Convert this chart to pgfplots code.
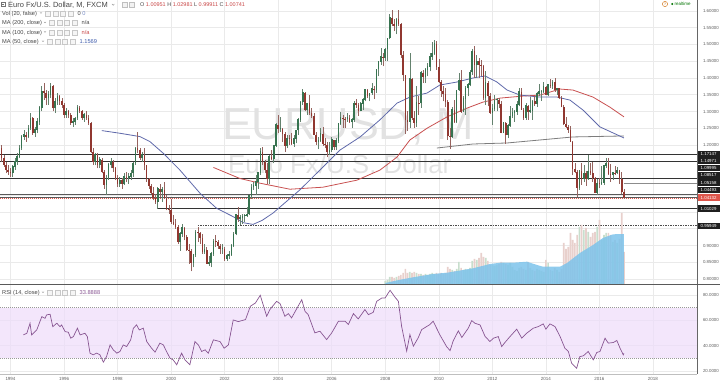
\documentclass[border=0pt]{standalone}
\usepackage{pgfplots}
\pgfplotsset{compat=1.18}
\usepackage{pgfplotstable}
\usepackage{fontspec}
\setmainfont{Liberation Sans}
\newcommand{\fs}[1]{\fontsize{#1}{#1}\selectfont}
\definecolor{upc}{RGB}{55,115,80}
\definecolor{dnc}{RGB}{145,55,48}
\definecolor{upw}{RGB}{100,130,110}
\definecolor{dnw}{RGB}{150,100,95}
\definecolor{gridc}{RGB}{234,234,234}
\definecolor{maA}{RGB}{95,105,170}
\definecolor{maB}{RGB}{200,80,80}
\definecolor{maC}{RGB}{125,125,125}
\definecolor{rsic}{RGB}{135,85,145}
\definecolor{band}{RGB}{238,220,250}
\definecolor{volblue}{RGB}{125,195,235}
\definecolor{volup}{RGB}{200,222,205}
\definecolor{voldn}{RGB}{232,208,204}
\definecolor{axc}{RGB}{95,95,95}
\definecolor{wm}{RGB}{226,226,226}
\definecolor{txt}{RGB}{70,70,70}
\definecolor{redv}{RGB}{200,70,70}
\definecolor{bluev}{RGB}{60,90,170}
\definecolor{curr}{RGB}{222,85,75}

\pgfplotstableread{
t o h l c
1993.667 1.190 1.200 1.150 1.160
1993.750 1.160 1.170 1.135 1.140
1993.833 1.140 1.150 1.115 1.125
1993.917 1.125 1.140 1.110 1.120
1994.000 1.120 1.130 1.105 1.115
1994.083 1.115 1.140 1.105 1.135
1994.167 1.135 1.160 1.125 1.150
1994.250 1.150 1.175 1.140 1.165
1994.333 1.165 1.200 1.160 1.190
1994.417 1.190 1.230 1.185 1.225
1994.500 1.225 1.245 1.215 1.230
1994.583 1.230 1.240 1.210 1.225
1994.667 1.225 1.260 1.220 1.250
1994.750 1.250 1.295 1.245 1.280
1994.833 1.280 1.285 1.230 1.235
1994.917 1.235 1.255 1.225 1.245
1995.000 1.245 1.280 1.235 1.270
1995.083 1.270 1.315 1.260 1.310
1995.167 1.310 1.375 1.300 1.360
1995.250 1.360 1.385 1.335 1.355
1995.333 1.355 1.365 1.320 1.340
1995.417 1.340 1.360 1.320 1.350
1995.500 1.350 1.385 1.340 1.375
1995.583 1.375 1.380 1.300 1.310
1995.667 1.310 1.340 1.295 1.330
1995.750 1.330 1.355 1.320 1.345
1995.833 1.345 1.350 1.320 1.330
1995.917 1.330 1.340 1.310 1.320
1996.000 1.320 1.325 1.280 1.290
1996.083 1.290 1.310 1.280 1.300
1996.167 1.300 1.305 1.280 1.290
1996.250 1.290 1.295 1.260 1.265
1996.333 1.265 1.280 1.255 1.270
1996.417 1.270 1.285 1.260 1.280
1996.500 1.280 1.318 1.275 1.310
1996.583 1.310 1.315 1.295 1.300
1996.667 1.300 1.305 1.275 1.280
1996.750 1.280 1.295 1.270 1.290
1996.833 1.290 1.300 1.275 1.280
1996.917 1.280 1.290 1.260 1.265
1997.000 1.265 1.270 1.175 1.180
1997.083 1.180 1.190 1.140 1.150
1997.167 1.150 1.175 1.140 1.170
1997.250 1.170 1.175 1.130 1.140
1997.333 1.140 1.165 1.130 1.155
1997.417 1.155 1.160 1.115 1.120
1997.500 1.120 1.125 1.070 1.080
1997.583 1.080 1.110 1.050 1.100
1997.667 1.100 1.145 1.095 1.140
1997.750 1.140 1.160 1.130 1.150
1997.833 1.150 1.155 1.120 1.130
1997.917 1.130 1.135 1.095 1.100
1998.000 1.100 1.110 1.075 1.085
1998.083 1.085 1.105 1.075 1.095
1998.167 1.095 1.100 1.070 1.085
1998.250 1.085 1.115 1.080 1.105
1998.333 1.105 1.120 1.090 1.100
1998.417 1.100 1.115 1.085 1.105
1998.500 1.105 1.125 1.095 1.115
1998.583 1.115 1.150 1.105 1.145
1998.667 1.145 1.195 1.140 1.190
1998.750 1.190 1.240 1.175 1.185
1998.833 1.185 1.190 1.155 1.160
1998.917 1.160 1.180 1.150 1.170
1999.000 1.170 1.190 1.125 1.139
1999.083 1.139 1.140 1.090 1.098
1999.167 1.098 1.100 1.070 1.077
1999.250 1.077 1.085 1.055 1.057
1999.333 1.057 1.075 1.035 1.041
1999.417 1.041 1.055 1.025 1.031
1999.500 1.031 1.075 1.010 1.069
1999.583 1.069 1.085 1.045 1.060
1999.667 1.060 1.075 1.030 1.067
1999.750 1.067 1.090 1.040 1.043
1999.833 1.043 1.050 1.005 1.008
1999.917 1.008 1.020 0.995 1.007
2000.000 1.007 1.040 0.965 0.971
2000.083 0.971 0.990 0.960 0.965
2000.167 0.965 0.980 0.950 0.956
2000.250 0.956 0.960 0.905 0.910
2000.333 0.910 0.940 0.885 0.935
2000.417 0.935 0.965 0.925 0.953
2000.500 0.953 0.955 0.915 0.924
2000.583 0.924 0.930 0.885 0.888
2000.667 0.888 0.905 0.845 0.883
2000.750 0.883 0.890 0.823 0.848
2000.833 0.848 0.875 0.835 0.872
2000.917 0.872 0.945 0.865 0.939
2001.000 0.939 0.955 0.910 0.936
2001.083 0.936 0.940 0.905 0.921
2001.167 0.921 0.935 0.875 0.880
2001.250 0.880 0.905 0.875 0.887
2001.333 0.887 0.895 0.845 0.846
2001.417 0.846 0.870 0.840 0.848
2001.500 0.848 0.880 0.835 0.875
2001.583 0.875 0.920 0.870 0.912
2001.667 0.912 0.930 0.895 0.911
2001.750 0.911 0.915 0.890 0.900
2001.833 0.900 0.905 0.875 0.890
2001.917 0.890 0.905 0.875 0.890
2002.000 0.890 0.895 0.855 0.860
2002.083 0.860 0.875 0.855 0.869
2002.167 0.869 0.885 0.860 0.872
2002.250 0.872 0.905 0.870 0.900
2002.333 0.900 0.940 0.895 0.933
2002.417 0.933 0.995 0.930 0.991
2002.500 0.991 1.015 0.970 0.978
2002.583 0.978 0.990 0.960 0.982
2002.667 0.982 0.995 0.965 0.987
2002.750 0.987 0.995 0.970 0.988
2002.833 0.988 1.015 0.985 0.993
2002.917 0.993 1.050 0.990 1.049
2003.000 1.049 1.085 1.040 1.074
2003.083 1.074 1.090 1.065 1.079
2003.167 1.079 1.110 1.050 1.091
2003.250 1.091 1.120 1.070 1.116
2003.333 1.116 1.190 1.110 1.179
2003.417 1.179 1.193 1.140 1.150
2003.500 1.150 1.155 1.115 1.124
2003.583 1.124 1.145 1.085 1.098
2003.667 1.098 1.170 1.083 1.165
2003.750 1.165 1.185 1.155 1.159
2003.833 1.159 1.200 1.145 1.198
2003.917 1.198 1.265 1.195 1.260
2004.000 1.260 1.290 1.235 1.247
2004.083 1.247 1.285 1.240 1.248
2004.167 1.248 1.250 1.210 1.232
2004.250 1.232 1.240 1.180 1.197
2004.333 1.197 1.230 1.190 1.220
2004.417 1.220 1.230 1.200 1.219
2004.500 1.219 1.237 1.200 1.203
2004.583 1.203 1.230 1.195 1.218
2004.667 1.218 1.245 1.205 1.244
2004.750 1.244 1.280 1.230 1.276
2004.833 1.276 1.330 1.270 1.327
2004.917 1.327 1.366 1.320 1.356
2005.000 1.356 1.358 1.300 1.304
2005.083 1.304 1.326 1.290 1.324
2005.167 1.324 1.349 1.290 1.296
2005.250 1.296 1.310 1.280 1.288
2005.333 1.288 1.295 1.230 1.230
2005.417 1.230 1.240 1.200 1.210
2005.500 1.210 1.225 1.187 1.213
2005.583 1.213 1.250 1.210 1.233
2005.667 1.233 1.255 1.198 1.203
2005.750 1.203 1.220 1.190 1.199
2005.833 1.199 1.210 1.164 1.179
2005.917 1.179 1.210 1.170 1.184
2006.000 1.184 1.225 1.180 1.215
2006.083 1.215 1.215 1.185 1.193
2006.167 1.193 1.220 1.185 1.212
2006.250 1.212 1.265 1.205 1.263
2006.333 1.263 1.298 1.260 1.281
2006.417 1.281 1.290 1.250 1.279
2006.500 1.279 1.285 1.250 1.277
2006.583 1.277 1.296 1.270 1.281
2006.667 1.281 1.290 1.265 1.268
2006.750 1.268 1.280 1.250 1.276
2006.833 1.276 1.330 1.270 1.324
2006.917 1.324 1.336 1.310 1.320
2007.000 1.320 1.325 1.286 1.302
2007.083 1.302 1.328 1.300 1.323
2007.167 1.323 1.340 1.304 1.335
2007.250 1.335 1.368 1.330 1.365
2007.333 1.365 1.368 1.340 1.345
2007.417 1.345 1.355 1.330 1.354
2007.500 1.354 1.385 1.350 1.368
2007.583 1.368 1.375 1.337 1.363
2007.667 1.363 1.428 1.355 1.426
2007.750 1.426 1.450 1.405 1.448
2007.833 1.448 1.490 1.440 1.463
2007.917 1.463 1.475 1.435 1.459
2008.000 1.459 1.490 1.450 1.486
2008.083 1.486 1.520 1.450 1.518
2008.167 1.518 1.590 1.515 1.579
2008.250 1.579 1.602 1.555 1.560
2008.333 1.560 1.575 1.540 1.555
2008.417 1.555 1.580 1.530 1.575
2008.500 1.575 1.604 1.555 1.560
2008.583 1.560 1.565 1.460 1.468
2008.667 1.468 1.480 1.390 1.408
2008.750 1.408 1.410 1.233 1.274
2008.833 1.274 1.300 1.243 1.270
2008.917 1.270 1.475 1.250 1.397
2009.000 1.397 1.400 1.275 1.280
2009.083 1.280 1.300 1.250 1.266
2009.167 1.266 1.375 1.255 1.325
2009.250 1.325 1.345 1.290 1.324
2009.333 1.324 1.420 1.310 1.415
2009.417 1.415 1.425 1.385 1.403
2009.500 1.403 1.430 1.385 1.425
2009.583 1.425 1.445 1.405 1.434
2009.667 1.434 1.475 1.420 1.464
2009.750 1.464 1.506 1.455 1.472
2009.833 1.472 1.514 1.470 1.501
2009.917 1.501 1.510 1.425 1.433
2010.000 1.433 1.458 1.385 1.387
2010.083 1.387 1.395 1.343 1.362
2010.167 1.362 1.375 1.330 1.351
2010.250 1.351 1.370 1.313 1.329
2010.333 1.329 1.335 1.215 1.227
2010.417 1.227 1.250 1.188 1.223
2010.500 1.223 1.313 1.220 1.305
2010.583 1.305 1.333 1.265 1.268
2010.667 1.268 1.365 1.265 1.363
2010.750 1.363 1.414 1.362 1.393
2010.833 1.393 1.425 1.296 1.299
2010.917 1.299 1.345 1.300 1.337
2011.000 1.337 1.375 1.290 1.369
2011.083 1.369 1.385 1.345 1.380
2011.167 1.380 1.425 1.375 1.417
2011.250 1.417 1.487 1.410 1.480
2011.333 1.480 1.494 1.400 1.440
2011.417 1.440 1.470 1.400 1.450
2011.500 1.450 1.460 1.400 1.439
2011.583 1.439 1.455 1.405 1.437
2011.667 1.437 1.440 1.335 1.339
2011.750 1.339 1.420 1.320 1.386
2011.833 1.386 1.390 1.315 1.345
2011.917 1.345 1.355 1.293 1.296
2012.000 1.296 1.323 1.260 1.308
2012.083 1.308 1.349 1.300 1.333
2012.167 1.333 1.340 1.300 1.334
2012.250 1.334 1.340 1.310 1.323
2012.333 1.323 1.330 1.235 1.237
2012.417 1.237 1.270 1.235 1.266
2012.500 1.266 1.268 1.204 1.230
2012.583 1.230 1.264 1.220 1.257
2012.667 1.257 1.317 1.254 1.286
2012.750 1.286 1.310 1.280 1.296
2012.833 1.296 1.305 1.269 1.299
2012.917 1.299 1.330 1.290 1.319
2013.000 1.319 1.370 1.315 1.358
2013.083 1.358 1.371 1.304 1.305
2013.167 1.305 1.310 1.275 1.282
2013.250 1.282 1.324 1.275 1.317
2013.333 1.317 1.320 1.275 1.299
2013.417 1.299 1.342 1.296 1.301
2013.500 1.301 1.335 1.276 1.330
2013.583 1.330 1.345 1.316 1.322
2013.667 1.322 1.358 1.313 1.352
2013.750 1.352 1.383 1.345 1.358
2013.833 1.358 1.363 1.332 1.359
2013.917 1.359 1.389 1.355 1.374
2014.000 1.374 1.376 1.348 1.349
2014.083 1.349 1.382 1.345 1.380
2014.167 1.380 1.396 1.370 1.377
2014.250 1.377 1.395 1.368 1.387
2014.333 1.387 1.399 1.358 1.363
2014.417 1.363 1.370 1.350 1.369
2014.500 1.369 1.370 1.338 1.339
2014.583 1.339 1.345 1.312 1.313
2014.667 1.313 1.320 1.259 1.263
2014.750 1.263 1.283 1.250 1.253
2014.833 1.253 1.260 1.236 1.245
2014.917 1.245 1.257 1.209 1.210
2015.000 1.210 1.212 1.110 1.129
2015.083 1.129 1.147 1.115 1.119
2015.167 1.119 1.125 1.046 1.073
2015.250 1.073 1.122 1.066 1.122
2015.333 1.122 1.147 1.082 1.099
2015.417 1.099 1.141 1.089 1.115
2015.500 1.115 1.121 1.079 1.098
2015.583 1.098 1.171 1.096 1.121
2015.667 1.121 1.146 1.109 1.117
2015.750 1.117 1.150 1.090 1.100
2015.833 1.100 1.103 1.056 1.057
2015.917 1.057 1.099 1.052 1.086
2016.000 1.086 1.100 1.071 1.083
2016.083 1.083 1.137 1.082 1.087
2016.167 1.087 1.140 1.081 1.138
2016.250 1.138 1.162 1.132 1.145
2016.333 1.145 1.162 1.110 1.113
2016.417 1.113 1.142 1.091 1.110
2016.500 1.110 1.119 1.095 1.117
2016.583 1.117 1.137 1.110 1.116
2016.667 1.116 1.133 1.112 1.124
2016.750 1.124 1.126 1.085 1.098
2016.833 1.098 1.118 1.053 1.059
2016.917 1.059 1.070 1.040 1.041
}\ohlc

\pgfplotstableread{
t v d
2008.000 4 1
2008.083 5 1
2008.167 8 1
2008.250 8 0
2008.333 7 0
2008.417 8 1
2008.500 9 0
2008.583 10 0
2008.667 12 0
2008.750 16 0
2008.833 12 0
2008.917 13 1
2009.000 12 0
2009.083 13 0
2009.167 12 1
2009.250 11 0
2009.333 11 1
2009.417 10 0
2009.500 11 1
2009.583 10 1
2009.667 11 1
2009.750 12 1
2009.833 11 1
2009.917 12 0
2010.000 11 0
2010.083 12 0
2010.167 11 0
2010.250 12 0
2010.333 18 0
2010.417 16 0
2010.500 15 1
2010.583 14 0
2010.667 16 1
2010.750 23 1
2010.833 17 0
2010.917 15 1
2011.000 16 1
2011.083 15 1
2011.167 17 1
2011.250 24 1
2011.333 26 0
2011.417 25 1
2011.500 27 0
2011.583 32 0
2011.667 28 0
2011.750 27 1
2011.833 24 0
2011.917 20 0
2012.000 20 1
2012.083 19 1
2012.167 20 1
2012.250 21 0
2012.333 23 0
2012.417 22 1
2012.500 21 0
2012.583 20 1
2012.667 22 1
2012.750 18 1
2012.833 15 1
2012.917 14 1
2013.000 17 1
2013.083 18 0
2013.167 16 0
2013.250 15 1
2013.333 23 0
2013.417 17 1
2013.500 15 1
2013.583 14 0
2013.667 16 1
2013.750 15 1
2013.833 14 1
2013.917 13 1
2014.000 25 0
2014.083 22 1
2014.167 15 0
2014.250 14 1
2014.333 17 0
2014.417 15 1
2014.500 13 0
2014.583 16 0
2014.667 42 0
2014.750 36 0
2014.833 38 0
2014.917 52 0
2015.000 45 0
2015.083 42 0
2015.167 50 0
2015.250 58 1
2015.333 60 0
2015.417 55 1
2015.500 57 0
2015.583 53 1
2015.667 48 0
2015.750 52 0
2015.833 53 0
2015.917 58 1
2016.000 65 0
2016.083 45 1
2016.167 50 1
2016.250 52 1
2016.333 52 0
2016.417 50 0
2016.500 43 1
2016.583 45 0
2016.667 42 1
2016.750 46 0
2016.833 72 0
2016.917 33 0
}\vol

\pgfplotstableread{
t v
2008.000 2
2008.500 5
2009.040 7.7
2009.780 11
2010.310 12.3
2011.280 16.7
2011.910 21
2012.290 22.3
2012.770 22.3
2013.290 23.3
2013.670 20
2013.890 18.3
2014.530 18.3
2014.790 22
2015.270 32
2015.760 40
2016.130 47
2016.510 50.7
2016.917 51
}\volma

\pgfplotstableread{
t v
1997.41 1.243
1998.09 1.235
1998.84 1.225
1999.21 1.210
1999.71 1.175
2000.33 1.125
2001.08 1.056
2001.70 1.011
2002.32 0.986
2002.70 0.968
2003.06 0.963
2003.40 0.975
2003.81 0.997
2004.81 1.066
2005.67 1.134
2006.31 1.185
2007.06 1.224
2007.80 1.275
2008.44 1.325
2008.92 1.343
2009.56 1.355
2010.04 1.379
2010.68 1.388
2011.28 1.400
2011.73 1.406
2012.17 1.388
2012.55 1.364
2013.03 1.349
2013.78 1.343
2014.42 1.343
2014.90 1.334
2015.39 1.304
2016.02 1.254
2016.51 1.236
2016.917 1.221
}\maA

\pgfplotstableread{
t v
2001.58 1.133
2002.57 1.100
2003.32 1.086
2004.44 1.068
2005.67 1.074
2006.94 1.095
2007.80 1.125
2008.44 1.164
2008.92 1.215
2009.56 1.250
2010.31 1.284
2011.05 1.310
2011.65 1.328
2012.29 1.340
2013.14 1.346
2013.78 1.349
2014.53 1.367
2015.01 1.364
2015.76 1.343
2016.39 1.313
2016.917 1.284
}\maB

\pgfplotstableread{
t v
2009.93 1.191
2011.28 1.203
2012.55 1.206
2013.78 1.215
2015.01 1.224
2016.917 1.227
}\maC

\pgfplotstableread{
t v
1994.48 48.5
1994.61 49.8
1994.73 57.7
1994.79 48.5
1994.98 52.4
1995.17 62.9
1995.29 61.6
1995.35 64.3
1995.48 64.8
1995.58 55.0
1995.73 57.7
1995.85 55.0
1995.91 56.4
1996.04 51.1
1996.16 50.6
1996.25 45.9
1996.35 47.2
1996.50 53.8
1996.60 48.5
1996.78 49.8
1996.87 47.2
1996.97 34.1
1997.09 32.8
1997.22 34.1
1997.34 32.8
1997.47 27.0
1997.59 31.5
1997.72 40.6
1997.84 36.7
1997.97 34.1
1998.09 35.4
1998.21 40.6
1998.34 39.3
1998.49 44.6
1998.59 53.8
1998.71 56.4
1998.81 52.4
1998.96 53.8
1999.09 43.2
1999.27 38.0
1999.40 34.9
1999.58 42.0
1999.71 40.6
1999.83 35.4
1999.96 30.1
2000.08 28.7
2000.21 24.9
2000.39 34.1
2000.52 28.7
2000.70 24.9
2000.89 43.2
2001.02 40.6
2001.14 35.4
2001.27 36.7
2001.39 34.1
2001.58 44.6
2001.83 43.2
2001.98 38.0
2002.14 40.6
2002.32 60.3
2002.51 59.0
2002.78 60.6
2002.96 71.1
2003.15 73.7
2003.33 79.8
2003.57 63.2
2003.69 68.5
2003.94 75.0
2004.07 73.2
2004.25 63.2
2004.38 65.3
2004.50 61.9
2004.88 76.3
2005.00 67.2
2005.12 64.5
2005.37 50.1
2005.56 51.4
2005.81 44.8
2006.00 50.1
2006.25 59.3
2006.50 59.3
2006.62 56.7
2006.81 65.3
2006.99 61.1
2007.24 68.5
2007.37 64.5
2007.55 66.3
2007.68 75.0
2007.87 77.6
2007.99 77.6
2008.18 83.7
2008.36 78.4
2008.49 75.0
2008.61 55.3
2008.80 35.7
2008.92 48.8
2009.05 39.6
2009.23 46.2
2009.36 52.7
2009.67 56.7
2009.79 59.3
2010.04 48.5
2010.29 39.3
2010.42 36.1
2010.54 43.9
2010.73 51.7
2010.86 46.5
2011.10 53.8
2011.23 59.8
2011.35 57.7
2011.54 56.4
2011.73 47.2
2011.91 43.3
2012.04 45.9
2012.22 47.2
2012.35 39.3
2012.47 42.5
2012.66 47.2
2012.91 53.0
2013.10 45.9
2013.28 49.8
2013.53 53.8
2013.72 55.1
2013.90 57.2
2014.00 53.0
2014.15 57.2
2014.34 55.1
2014.53 47.2
2014.71 38.0
2014.84 35.4
2014.96 26.2
2015.15 22.2
2015.27 31.4
2015.40 32.0
2015.58 35.4
2015.77 28.8
2015.90 34.6
2016.02 35.4
2016.21 45.9
2016.33 42.0
2016.52 42.5
2016.65 44.1
2016.77 38.0
2016.89 32.8
2016.917 33.9
}\rsi

\pgfplotsset{
  tvaxis/.style={scale only axis, width=697bp, anchor=south west,
    xmin=1993.608, xmax=2019.645,
    axis line style={draw=none}, major tick length=0pt,
    grid=major, major grid style={gridc, line width=0.5bp},
    xtick={1994,1996,1998,2000,2002,2004,2006,2008,2010,2012,2014,2016,2018},
    ytick pos=right, yticklabel pos=right,
    yticklabel style={font=\fs{4.4}, text=axc, xshift=2.5bp},
    xticklabel style={font=\fs{4.5}, text=axc}},
  lvl/.style={line width=0.8bp, forget plot},
  candle/.style 2 args={draw=none, mark=none, forget plot,
    error bars/y dir=plus, error bars/y explicit, error bars/error mark=none,
    error bars/error bar style={line width=#1, draw=#2}},
}

\begin{document}
\begin{tikzpicture}
\useasboundingbox (0,0) rectangle (720bp,381bp);

% ---------- main price pane ----------
\begin{axis}[tvaxis, at={(0,96bp)}, height=285bp,
  ymin=0.7821, ymax=1.6328, xticklabels={},
  ytick={0.80,0.85,0.90,0.95,1.00,1.05,1.10,1.15,1.20,1.25,1.30,1.35,1.40,1.45,1.50,1.55,1.60},
  yticklabels={0.80000,0.85000,0.90000,,,,,,1.20000,1.25000,1.30000,1.35000,1.40000,1.45000,1.50000,1.55000,1.60000}]
\node[font=\fs{45}, text=wm, anchor=base] at (axis cs:2006.6,1.215) {EURUSD, M};
\node[font=\fs{26}, text=wm, anchor=base] at (axis cs:2006.3,1.1164) {Euro Fx/U.S. Dollar};
% horizontal levels
\addplot[lvl, color=black!80] coordinates {(1993.6,1.17147) (2019.7,1.17147)};
\addplot[lvl, color=black!80] coordinates {(1993.6,1.14971) (2019.7,1.14971)};
\addplot[lvl, color=black!80] coordinates {(1993.6,1.09995) (2019.7,1.09995)};
\addplot[lvl, color=black!45] coordinates {(2016.917,1.08517) (2019.7,1.08517)};
\addplot[lvl, color=black!65] coordinates {(1993.6,1.05158) (2019.7,1.05158)};
\addplot[lvl, color=black!65] coordinates {(1993.6,1.04493) (2019.7,1.04493)};
\addplot[lvl, color=black!80] coordinates {(1999.47,1.01029) (2019.7,1.01029)};
\addplot[lvl, color=black!70, dash pattern=on 1.5bp off 1bp] coordinates {(2001.0,0.95949) (2019.7,0.95949)};
\addplot[forget plot, color=curr, line width=0.7bp, dash pattern=on 1bp off 1bp] coordinates {(1993.6,1.04132) (2019.7,1.04132)};
% moving averages
\addplot[color=maC, line width=0.8bp, forget plot] table[x=t,y=v] {\maC};
\addplot[color=maB, line width=0.8bp, forget plot] table[x=t,y=v] {\maB};
\addplot[color=maA, line width=0.8bp, forget plot] table[x=t,y=v] {\maA};
% candles: wicks
\addplot[restrict expr to domain={\thisrow{c}-\thisrow{o}}{0:10}, candle={0.6bp}{upw}]
  table[x=t, y=l, y error expr=\thisrow{h}-\thisrow{l}] {\ohlc};
\addplot[restrict expr to domain={\thisrow{c}-\thisrow{o}}{-10:-0.0000001}, candle={0.6bp}{dnw}]
  table[x=t, y=l, y error expr=\thisrow{h}-\thisrow{l}] {\ohlc};
% candles: bodies
\addplot[restrict expr to domain={\thisrow{c}-\thisrow{o}}{0:10}, candle={1.6bp}{upc}]
  table[x=t, y=o, y error expr=\thisrow{c}-\thisrow{o}+0.002] {\ohlc};
\addplot[restrict expr to domain={\thisrow{c}-\thisrow{o}}{-10:-0.0000001}, candle={1.6bp}{dnc}]
  table[x=t, y=c, y error expr=\thisrow{o}-\thisrow{c}] {\ohlc};
\end{axis}

% ---------- volume overlay ----------
\begin{axis}[scale only axis, width=697bp, height=285bp, anchor=south west, at={(0,96bp)},
  xmin=1993.608, xmax=2019.645, ymin=0, ymax=285, axis lines=none, ticks=none]
\addplot[ybar, bar width=1.7bp, bar shift=0pt, fill=volup, draw=none,
  restrict expr to domain={\thisrow{d}}{0.5:2}] table[x=t,y=v] {\vol};
\addplot[ybar, bar width=1.7bp, bar shift=0pt, fill=voldn, draw=none,
  restrict expr to domain={\thisrow{d}}{-1:0.5}] table[x=t,y=v] {\vol};
\addplot[fill=volblue, fill opacity=0.85, draw=none] table[x=t,y=v] {\volma} \closedcycle;
\end{axis}

% ---------- RSI pane ----------
\begin{axis}[tvaxis, at={(0,7bp)}, height=89bp,
  ymin=17.63, ymax=87.9,
  xticklabels={1994,1996,1998,2000,2002,2004,2006,2008,2010,2012,2014,2016,2018},
  ytick={20,40,60,80}, yticklabels={20.0000,40.0000,60.0000,80.0000}]
\addplot[fill=band, fill opacity=0.7, draw=none, forget plot] coordinates {(1993.6,30) (2019.7,30) (2019.7,70) (1993.6,70)} --cycle;
\addplot[color=black!40, line width=0.5bp, dash pattern=on 1bp off 1bp, forget plot] coordinates {(1993.6,70) (2019.7,70)};
\addplot[color=black!40, line width=0.5bp, dash pattern=on 1bp off 1bp, forget plot] coordinates {(1993.6,30) (2019.7,30)};
\addplot[color=rsic, line width=0.7bp] table[x=t,y=v] {\rsi};
\end{axis}

% ---------- frame and annotations (image pixel coordinates, y downwards) ----------
\begin{scope}[x=1bp, y=-1bp, yshift=381bp]
\draw[color=black!60, line width=0.8bp] (697.3,0) -- (697.3,374);
\draw[color=black!65, line width=1bp] (0,285) -- (720,285);
\draw[color=black!25, line width=0.6bp] (0,374) -- (697.3,374);
% price boxes
\foreach \yy/\lab in {154.3/1.17147, 161/1.14971, 168/1.09995, 175.3/1.08517, 182.7/1.05158, 190/1.04493, 208.7/1.01029, 226/0.95949}{
  \fill[black!88] (697.8,\yy-3.4) rectangle (720,\yy+3.4);
  \node[anchor=west, text=white, font=\fs{4.4}, inner sep=0pt] at (700.5,\yy) {\lab};
}
\fill[curr] (697.8,197.7-3.4) rectangle (720,197.7+3.4);
\node[anchor=west, text=white, font=\fs{4.4}, inner sep=0pt] at (700.5,197.7) {1.04132};
% legend top-left
\draw[color=black!55, line width=0.4bp] (1,2.3) rectangle (5.2,6.5);
\draw[color=black!55, line width=0.4bp] (1.9,4.4) -- (4.3,4.4);
\node[anchor=base west, text=txt, font=\fs{7.5}, inner sep=0pt] at (8,7.4) {Euro Fx/U.S. Dollar, M, FXCM};
\draw[color=black!45, line width=0.4bp] (112,4) -- (113.2,5.3) -- (114.4,4);
\foreach \xx in {122,129}{\draw[color=black!25, fill=black!5, line width=0.3bp] (\xx,2.2) rectangle ++(5,5);}
\node[anchor=base west, text=txt, font=\fs{5.5}, inner sep=0pt] at (140,7) {O \textcolor{redv}{1.00951} H \textcolor{redv}{1.02981} L \textcolor{redv}{0.99911} C \textcolor{redv}{1.00741}};
\foreach \yy/\lab/\xi/\val/\vc in {15.5/{Vol (20, false)}/45/{0 \textcolor{bluev!70}{0}}/txt, 25/{MA (200, close)}/49/{n/a}/txt, 34.3/{MA (100, close)}/49/{n/a}/redv, 43.7/{MA (50, close)}/47/{1.1569}/bluev, 294.7/{RSI (14, close)}/47/{33.8888}/rsic}{
  \node[anchor=base west, text=txt, font=\fs{5.7}, inner sep=0pt] at (2,\yy) {\lab};
  \draw[color=black!45, line width=0.35bp] (\xi-5,\yy-3) -- (\xi-4,\yy-2) -- (\xi-3,\yy-3);
  \foreach \k in {0,1,2,3}{\draw[color=black!22, fill=black!4, line width=0.3bp] (\xi+\k*7.8,\yy-4.6) rectangle ++(5,5);}
  \node[anchor=base west, text=\vc, font=\fs{5.7}, inner sep=0pt] at (\xi+32.5,\yy) {\val};
}
% top right
\draw[color=orange!80!black, line width=0.4bp] (665,4) circle (2.6);
\node[text=orange!80!black, font=\fs{3.5}, inner sep=0pt] at (665,4) {?};
\fill[color=green!45!black] (672.3,4) circle (1.1);
\node[anchor=west, text=green!45!black, font=\fs{4.5}, inner sep=0pt] at (674.5,4) {realtime};
\end{scope}
\end{tikzpicture}
\end{document}
